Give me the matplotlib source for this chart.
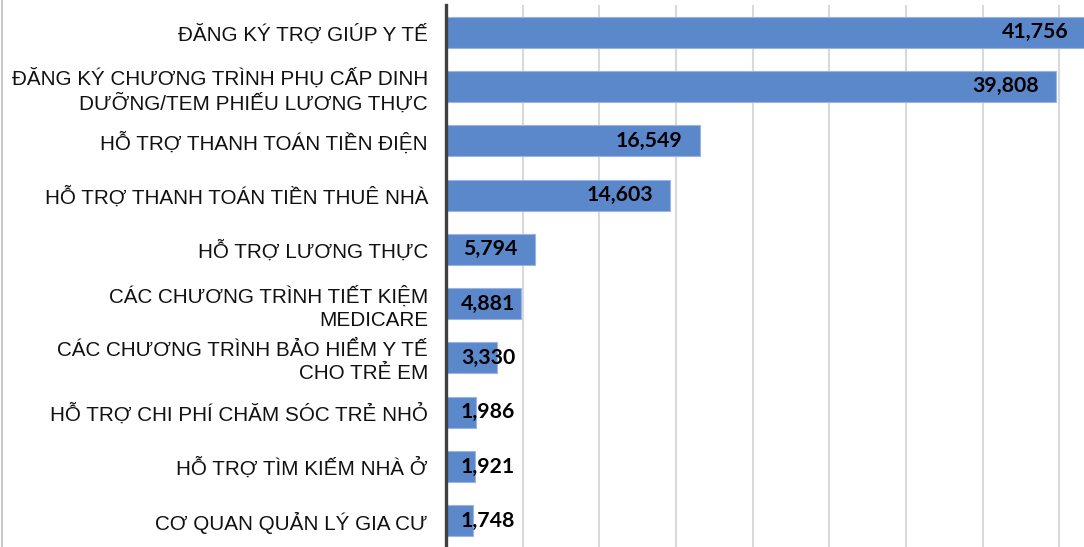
import matplotlib.pyplot as plt
from matplotlib.lines import Line2D

programs = [
    "ĐĂNG KÝ TRỢ GIÚP Y TẾ",
    "ĐĂNG KÝ CHƯƠNG TRÌNH PHỤ CẤP DINH\nDƯỠNG/TEM PHIẾU LƯƠNG THỰC",
    "HỖ TRỢ THANH TOÁN TIỀN ĐIỆN",
    "HỖ TRỢ THANH TOÁN TIỀN THUÊ NHÀ",
    "HỖ TRỢ LƯƠNG THỰC",
    "CÁC CHƯƠNG TRÌNH TIẾT KIỆM\nMEDICARE",
    "CÁC CHƯƠNG TRÌNH BẢO HIỂM Y TẾ\nCHO TRẺ EM",
    "HỖ TRỢ CHI PHÍ CHĂM SÓC TRẺ NHỎ",
    "HỖ TRỢ TÌM KIẾM NHÀ Ở",
    "CƠ QUAN QUẢN LÝ GIA CƯ",
]
counts = [41756, 39808, 16549, 14603, 5794, 4881, 3330, 1986, 1921, 1748]

W, H = 1084, 547
fig = plt.figure(figsize=(W / 100, H / 100), dpi=100)

# axes runs a bit past the right and bottom edges, so the longest bar is cut off
left, right, top, bottom = 446, 1136, 5, 548
ax = fig.add_axes([left / W, 1 - bottom / H, (right - left) / W, (bottom - top) / H])

y = list(range(len(programs)))
ax.barh(y, counts, height=0.57, color="#5B87CB", edgecolor="#9AB5E2",
        linewidth=0.8, zorder=3)

ax.set_xlim(0, 45000)
ax.set_ylim(len(programs) - 0.5, -0.5)
ax.set_xticks(range(5000, 45001, 5000))
ax.tick_params(axis="x", length=0, labelbottom=False)
ax.grid(axis="x", color="#D9D9D9", linewidth=1.5, zorder=0)

ax.set_yticks(y)
ax.set_yticklabels(programs, fontsize=14.9, family="Liberation Sans",
                   linespacing=1.3, color="#111111")
ax.tick_params(axis="y", length=0, pad=13)

for s in ["top", "right", "bottom"]:
    ax.spines[s].set_visible(False)
ax.spines["left"].set_color("#404040")
ax.spines["left"].set_linewidth(2.4)
ax.spines["left"].set_zorder(4)

# value labels sit inside the bar end, but never closer to the axis than ~4500
for yi, v in zip(y, counts):
    ax.text(max(v - 1120, 4520), yi, f"{v:,}", ha="right", va="center",
            fontsize=15.3, fontweight="bold", family="Lato", color="black",
            zorder=5)

# thin frame line on the left edge
fig.add_artist(Line2D([1.5 / W, 1.5 / W], [0, 1], color="#BFBFBF", linewidth=1.2))

fig.savefig("out.png", dpi=100)
